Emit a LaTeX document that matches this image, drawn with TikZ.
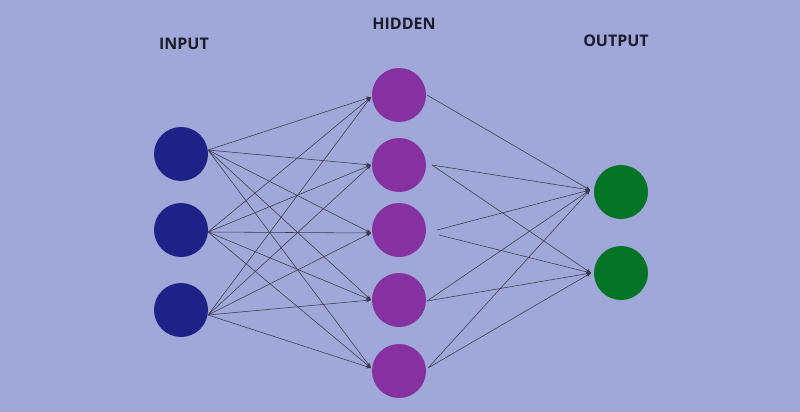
\documentclass[tikz,border=0pt]{standalone}
\usepackage{fontspec}
\setmainfont{Open Sans}
\usetikzlibrary{arrows.meta}
\definecolor{bg}{HTML}{A0A8DA}
\definecolor{inc}{HTML}{1E2185}
\definecolor{hidc}{HTML}{8531A0}
\definecolor{outc}{HTML}{037425}
\definecolor{txt}{HTML}{1C1C2A}
\definecolor{wire}{HTML}{3A3A4A}
\tikzset{
  neuron/.style={circle, minimum size=54pt, inner sep=0pt, draw=none},
  layerlabel/.style={font=\fontsize{16}{18}\selectfont\bfseries, text=txt, inner sep=0pt},
  link/.style={draw=wire, line width=0.55pt, -{Stealth[length=5pt,width=4pt]}},
}
\begin{document}
\begin{tikzpicture}[x=1pt,y=-1pt]
\fill[bg] (0,0) rectangle (800,412);
\useasboundingbox (0,0) rectangle (800,412);
% labels
\node[layerlabel] (lin) at (184,44) {INPUT};
\node[layerlabel] (lhid) at (404,24) {HIDDEN};
\node[layerlabel] (lout) at (616,41) {OUTPUT};
% neurons
\node[neuron, fill=inc] (i1) at (181,154) {};
\node[neuron, fill=inc] (i2) at (181,230) {};
\node[neuron, fill=inc] (i3) at (181,310) {};
\node[neuron, fill=hidc] (h1) at (399,95) {};
\node[neuron, fill=hidc] (h2) at (399,165) {};
\node[neuron, fill=hidc] (h3) at (399,230) {};
\node[neuron, fill=hidc] (h4) at (399,300) {};
\node[neuron, fill=hidc] (h5) at (399,371) {};
\node[neuron, fill=outc] (o1) at (621,192) {};
\node[neuron, fill=outc] (o2) at (621,273) {};
% connector anchor points
\coordinate (i1s) at (208,150);
\coordinate (i2s) at (208,232);
\coordinate (i3s) at (208,315);
\coordinate (h1e) at (371,97);
\coordinate (h2e) at (371,165);
\coordinate (h3e) at (371,233);
\coordinate (h4e) at (371,300);
\coordinate (h5e) at (371,368);
\coordinate (h1s) at (427,95);
\coordinate (h2s) at (432,165);
\coordinate (h3sa) at (437,230);
\coordinate (h3sb) at (439,235);
\coordinate (h4s) at (427,301);
\coordinate (h5s) at (428,368);
\coordinate (o1e) at (590,190);
\coordinate (o2e) at (591,273);
% input -> hidden
\foreach \i in {i1s,i2s,i3s}{
  \foreach \h in {h1e,h2e,h3e,h4e,h5e}{
    \draw[link] (\i) -- (\h);
  }
}
% hidden -> output
\draw[link] (h1s) -- (o1e);
\draw[link] (h2s) -- (o1e);
\draw[link] (h2s) -- (o2e);
\draw[link] (h3sa) -- (o1e);
\draw[link] (h3sb) -- (o2e);
\draw[link] (h4s) -- (o1e);
\draw[link] (h4s) -- (o2e);
\draw[link] (h5s) -- (o1e);
\draw[link] (h5s) -- (o2e);
\end{tikzpicture}
\end{document}
